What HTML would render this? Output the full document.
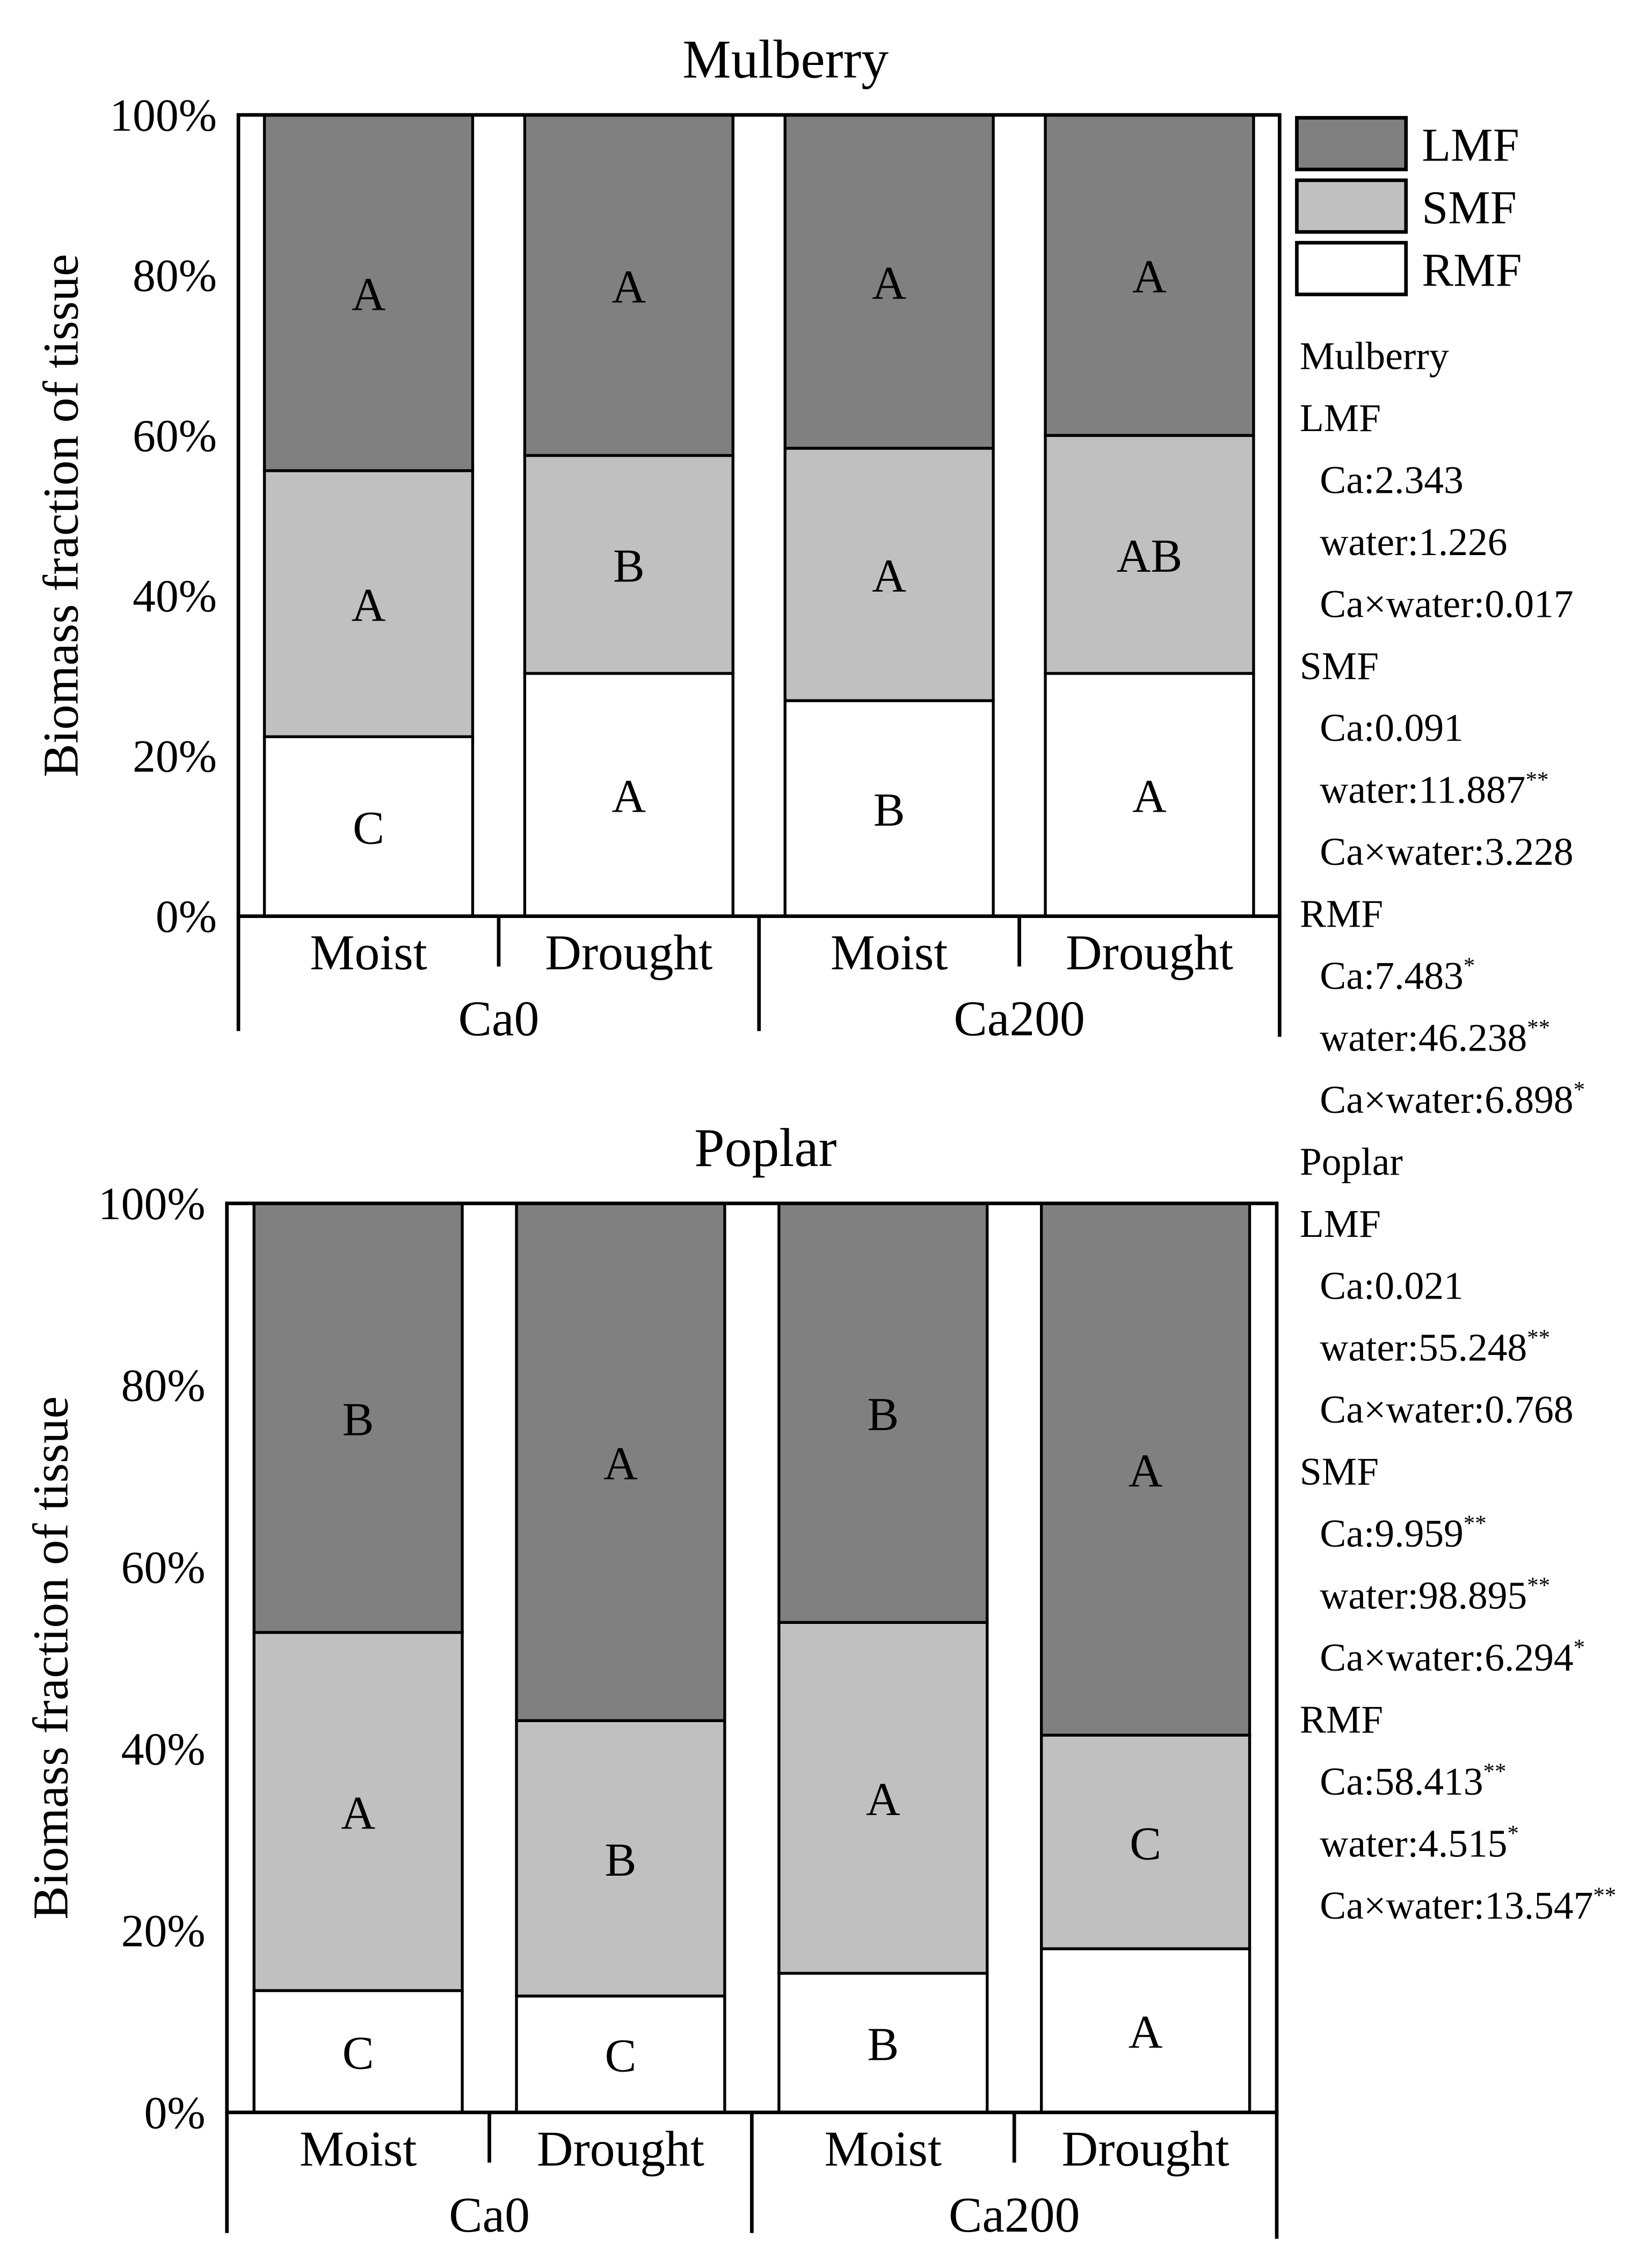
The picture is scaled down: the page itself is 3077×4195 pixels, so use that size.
<!DOCTYPE html>
<html><head><meta charset="utf-8"><style>
html,body{margin:0;padding:0;background:#fff}
svg{display:block}
text{font-family:"Liberation Serif",serif;fill:#000}
</style></head><body>
<svg id="chart" width="3077" height="4195" viewBox="0 0 1150.3 1568.2" xmlns="http://www.w3.org/2000/svg"></svg>
<script>
const groups = ["Moist","Drought","Moist","Drought"];
const caLevels = ["Ca0","Ca200"];
const mulRMF = [22.4, 30.3, 26.9, 30.3];
const mulSMF = [33.2, 27.2, 31.5, 29.7];
const mulLMF = [44.4, 42.5, 41.6, 40.0];
const mulLetLMF = ["A","A","A","A"];
const mulLetSMF = ["A","B","A","AB"];
const mulLetRMF = ["C","A","B","A"];
const popRMF = [13.4, 12.8, 15.3, 18.0];
const popSMF = [39.4, 30.3, 38.6, 23.5];
const popLMF = [47.2, 56.9, 46.1, 58.5];
const popLetLMF = ["B","A","B","A"];
const popLetSMF = ["A","B","A","C"];
const popLetRMF = ["C","C","B","A"];
const yTicks = [0,20,40,60,80,100];
const statsLines = [
 ["Mulberry",0,""],["LMF",0,""],["Ca:2.343",1,""],["water:1.226",1,""],["Ca×water:0.017",1,""],
 ["SMF",0,""],["Ca:0.091",1,""],["water:11.887",1,"**"],["Ca×water:3.228",1,""],
 ["RMF",0,""],["Ca:7.483",1,"*"],["water:46.238",1,"**"],["Ca×water:6.898",1,"*"],
 ["Poplar",0,""],["LMF",0,""],["Ca:0.021",1,""],["water:55.248",1,"**"],["Ca×water:0.768",1,""],
 ["SMF",0,""],["Ca:9.959",1,"**"],["water:98.895",1,"**"],["Ca×water:6.294",1,"*"],
 ["RMF",0,""],["Ca:58.413",1,"**"],["water:4.515",1,"*"],["Ca×water:13.547",1,"**"]
];
const NS="http://www.w3.org/2000/svg";
const svg=document.getElementById('chart');
function el(tag,attrs,parent){const e=document.createElementNS(NS,tag);for(const k in attrs)e.setAttribute(k,attrs[k]);(parent||svg).appendChild(e);return e;}
function txt(s,x,y,size,anchor,parent){const t=el('text',{x:x,y:y,'font-size':size,'text-anchor':anchor||'middle'},parent);t.textContent=s;return t;}

function panel(cfg){
  const g=el('g',{});
  
  
  const L=cfg.left,R=cfg.right,T=cfg.top,B=cfg.bottom;
  const y=v=>B-(B-T)*v/100;
  const t=txt(cfg.title,cfg.titleX,T-26,38,'middle',g);
  
  
  yTicks.forEach(v=>{const tl=txt(v+'%',L-15,y(v)+11,32,'end',g);
    
    });
  const at=txt('Biomass fraction of tissue',0,0,35,'middle',g);
  at.setAttribute('transform','translate('+cfg.axisTitleX+','+((T+B)/2)+') rotate(-90)');
  
  
  const slot=(R-L)/4;
  const bw=145;
  const series=[[cfg.rmf,'#ffffff',cfg.letR],[cfg.smf,'#c0c0c0',cfg.letS],[cfg.lmf,'#808080',cfg.letL]];
  for(let i=0;i<4;i++){
    const cx=L+slot*(i+0.5);
    let base=0;
    series.forEach((s,k)=>{
      const v=s[0][i];
      const top=(k===2)?100:base+v;
      const r=el('rect',{x:cx-bw/2,y:y(top),width:bw,height:y(base)-y(top),fill:s[1],stroke:'#000','stroke-width':2},g);
      
      
      const lt=txt(s[2][i],cx,(y(base)+y(top))/2+12,33,'middle',g);
      
      
      base=top;
    });
  }
  el('rect',{x:L,y:T,width:R-L,height:B-T,fill:'none',stroke:'#000','stroke-width':2.5},g);
  const cb=cfg.catBottom;
  el('line',{x1:L,y1:B,x2:L,y2:cb,stroke:'#000','stroke-width':2.5},g);
  el('line',{x1:R,y1:B,x2:R,y2:cb+4,stroke:'#000','stroke-width':2.5},g);
  el('line',{x1:(L+R)/2,y1:B,x2:(L+R)/2,y2:cb,stroke:'#000','stroke-width':2.5},g);
  [1,3].forEach(i=>el('line',{x1:L+slot*i,y1:B,x2:L+slot*i,y2:B+35,stroke:'#000','stroke-width':2.5},g));
  groups.forEach((n,i)=>{const c=txt(n,L+slot*(i+0.5),B+37,35,'middle',g);
    
    });
  caLevels.forEach((n,i)=>{const c=txt(n,L+(R-L)*(i*0.5+0.25),B+83,35,'middle',g);
    
    });
}
panel({name:'mulberry-panel',title:'Mulberry',titleX:547,left:166,right:891,top:80,bottom:638,catBottom:718,axisTitleX:54,
  rmf:mulRMF,smf:mulSMF,lmf:mulLMF,letR:mulLetRMF,letS:mulLetSMF,letL:mulLetLMF});
panel({name:'poplar-panel',title:'Poplar',titleX:533,left:158,right:889,top:838,bottom:1471,catBottom:1555,axisTitleX:47,
  rmf:popRMF,smf:popSMF,lmf:popLMF,letR:popLetRMF,letS:popLetSMF,letL:popLetLMF});

const lg=el('g',{});


[['LMF','#808080'],['SMF','#c0c0c0'],['RMF','#ffffff']].forEach((d,i)=>{
  const r=el('rect',{x:903,y:82+i*43.5,width:76,height:36,fill:d[1],stroke:'#000','stroke-width':2.5},lg);
  
  
  const t=txt(d[0],990,112+i*43.5,33,'start',lg);
  
  
});
const sg=el('g',{});


statsLines.forEach((l,i)=>{
  const t=txt(l[0],l[1]?919:905,257+i*43.16,27.5,'start',sg);
  
  
  if(l[2]){const ts=document.createElementNS(NS,'tspan');ts.setAttribute('dy','-11');ts.setAttribute('font-size','16');ts.textContent=l[2];t.appendChild(ts);}
});
</script>
</body></html>
